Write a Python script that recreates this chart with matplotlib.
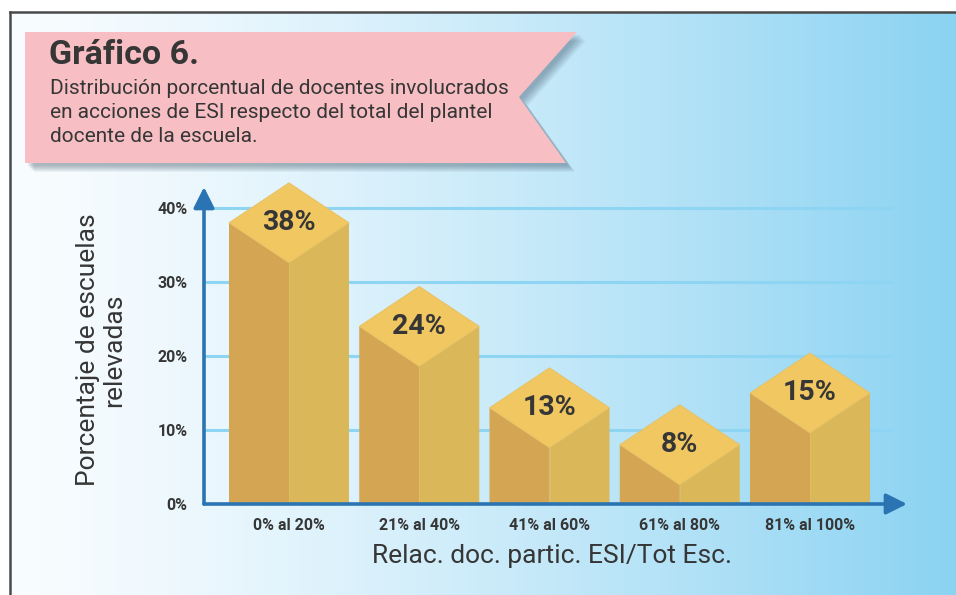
import numpy as np
import matplotlib
matplotlib.use("Agg")
import matplotlib.pyplot as plt
from matplotlib.patches import Polygon

plt.rcParams["font.family"] = ["Roboto", "DejaVu Sans"]

# data
categories = ["0% al 20%", "21% al 40%", "41% al 60%", "61% al 80%", "81% al 100%"]
values = [38, 24, 13, 8, 15]
value_labels = ["38%", "24%", "13%", "8%", "15%"]
y_ticks = [0, 10, 20, 30, 40]
y_tick_labels = ["0%", "10%", "20%", "30%", "40%"]

title = "Gráfico 6."
subtitle_lines = [
    "Distribución porcentual de docentes involucrados",
    "en acciones de ESI respecto del total del plantel",
    "docente de la escuela.",
]
x_label = "Relac. doc. partic. ESI/Tot Esc."
y_label = "Porcentaje de escuelas\nrelevadas"

W, H = 956, 595
TEXT = "#363636"
AXIS = "#2b74b3"
GRID = "#8ed4f3"
LEFT_FACE = "#d4a552"
RIGHT_FACE = "#dab758"
TOP_FACE = "#f0c760"

fig = plt.figure(figsize=(W / 100, H / 100), dpi=100)

# background layer in pixel coordinates
bg = fig.add_axes([0, 0, 1, 1])
bg.set_xlim(0, W)
bg.set_ylim(H, 0)
bg.axis("off")
t = np.linspace(0, 1, 400) ** 1.3
c0 = np.array([0.975, 0.99, 1.0])
c1 = np.array([0.545, 0.827, 0.95])
grad = c0[None, :] + (c1 - c0)[None, :] * t[:, None]
bg.imshow(grad[None, :, :], extent=[10, W, H, 12], aspect="auto", zorder=0)
bg.plot([10, W], [12, 12], color="#4a4a4a", lw=1.8, zorder=1)
bg.plot([10, 10], [12, H], color="#4a4a4a", lw=1.8, zorder=1)

# banner with soft shadow
banner = [(25, 32), (577, 32), (519, 97), (566, 163), (25, 163)]
for k in range(10, 0, -1):
    shifted = [(x + 2 + k * 0.7, y + 2 + k * 0.7) for x, y in banner]
    bg.add_patch(Polygon(shifted, closed=True, facecolor="#2f4557",
                         alpha=0.045, edgecolor="none", zorder=2))
bg.add_patch(Polygon(banner, closed=True, facecolor="#f7bfc4",
                     edgecolor="none", zorder=3))
bg.text(49, 55, title, fontsize=24.5, fontweight="bold", color=TEXT,
        va="center", ha="left", zorder=4)
for i, line in enumerate(subtitle_lines):
    bg.text(50, 88 + i * 24.5, line, fontsize=15, color=TEXT,
            va="center", ha="left", zorder=4)

bg.text(101, 350, y_label, fontsize=19, color=TEXT, rotation=90,
        ha="center", va="center", linespacing=1.15, zorder=4)
bg.text(552, 556, x_label, fontsize=19, color=TEXT,
        ha="center", va="center", zorder=4)

# main chart axes
x0, x1 = 204, 907
y_base, px_per = 504, 7.4
ymax = 42
ax = fig.add_axes([x0 / W, (H - y_base) / H, (x1 - x0) / W, ymax * px_per / H])
ax.patch.set_alpha(0)
step = 130.25
ax.set_xlim(-(289 - x0) / step, (x1 - 289) / step)
ax.set_ylim(0, ymax)
for s in ax.spines.values():
    s.set_visible(False)

grid_end = (893 - 289) / step
ax.hlines(y_ticks[1:], ax.get_xlim()[0], grid_end, color=GRID, lw=2.2, zorder=1)

w = 120 / step
d = 40 / px_per
for i, v in enumerate(values):
    l, r = i - w / 2, i + w / 2
    ax.add_patch(Polygon([(l, 0), (i, 0), (i, v - d), (l, v)], clip_on=False,
                         facecolor=LEFT_FACE, edgecolor="none", zorder=2))
    ax.add_patch(Polygon([(i, 0), (r, 0), (r, v), (i, v - d)], clip_on=False,
                         facecolor=RIGHT_FACE, edgecolor="none", zorder=2))
    ax.add_patch(Polygon([(l, v), (i, v + d), (r, v), (i, v - d)], clip_on=False,
                         facecolor=TOP_FACE, edgecolor="#e6c063", lw=0.6, zorder=3))
    ax.plot([i, i], [0, v - d], color="#e2bd63", lw=0.6, zorder=3)
    ax.text(i, v, value_labels[i], fontsize=20.5, fontweight="bold", color=TEXT,
            ha="center", va="center", zorder=4)

ax.set_xticks(range(len(categories)))
ax.set_xticklabels(categories, fontsize=11.5, fontweight="bold", color=TEXT)
ax.set_yticks(y_ticks)
ax.set_yticklabels(y_tick_labels, fontsize=11.5, fontweight="bold", color=TEXT)
ax.tick_params(length=0)
ax.tick_params(axis="x", pad=10)
ax.tick_params(axis="y", pad=12)

# axes with arrow heads
arrow = dict(arrowstyle="-|>,head_length=0.9,head_width=0.45", color=AXIS,
             lw=2.6, shrinkA=0, shrinkB=0, mutation_scale=14)
ax.annotate("", xy=(0, 1.02), xytext=(0, 0), xycoords="axes fraction",
            arrowprops=arrow, zorder=5)
ax.annotate("", xy=(1, 0), xytext=(0, 0), xycoords="axes fraction",
            arrowprops=arrow, zorder=5)

fig.savefig("out.png", dpi=100)
